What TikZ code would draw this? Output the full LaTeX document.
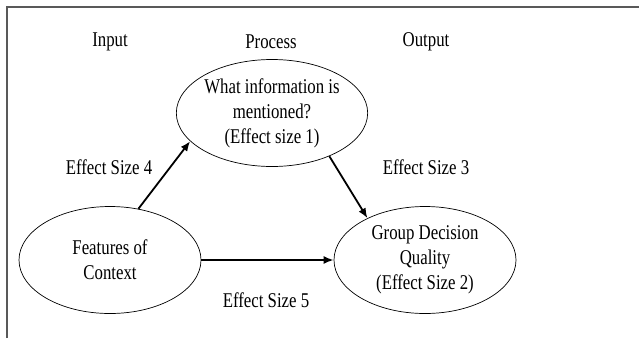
\documentclass[tikz,border=0pt]{standalone}
\usepackage{fontspec}
\setmainfont{Liberation Serif}[FakeStretch=0.8]
\usetikzlibrary{shapes.geometric,arrows.meta}
\begin{document}
\begin{tikzpicture}[x=1pt,y=-1pt,
  oval/.style={draw,ellipse,line width=0.7pt,minimum width=182pt,minimum height=107pt,inner sep=0pt,align=center,font=\fontsize{21}{25}\selectfont},
  lbl/.style={font=\fontsize{21}{25}\selectfont},
  conn/.style={line width=1.8pt,-{Latex[length=10pt,width=8pt]}},
  frameline/.style={draw=black!65,line width=1.5pt}]
\useasboundingbox (0,0) rectangle (639,338);
\coordinate (fa) at (7,338);
\coordinate (fb) at (7,7);
\coordinate (fc) at (639,7);
\draw[frameline] (fa) -- (fb) -- (fc);
\node[lbl] (in) at (110,42) {Input};
\node[lbl] (pr) at (271,42) {Process};
\node[lbl] (out) at (426,42) {Output};
\node[oval] (top) at (272,113) {What information is\\mentioned?\\(Effect size 1)};
\node[oval] (left) at (110,260) {Features of\\Context};
\node[oval] (right) at (425,260) {Group Decision\\Quality\\(Effect Size 2)};
\node[lbl] (e4) at (109,167) {Effect Size 4};
\node[lbl] (e3) at (426,167) {Effect Size 3};
\node[lbl] (e5) at (266,300) {Effect Size 5};
\draw[conn] (left.61) -- (top.199);
\draw[conn] (top.-37) -- (right.144);
\draw[conn] (left.east) -- (right.west);
\end{tikzpicture}
\end{document}
